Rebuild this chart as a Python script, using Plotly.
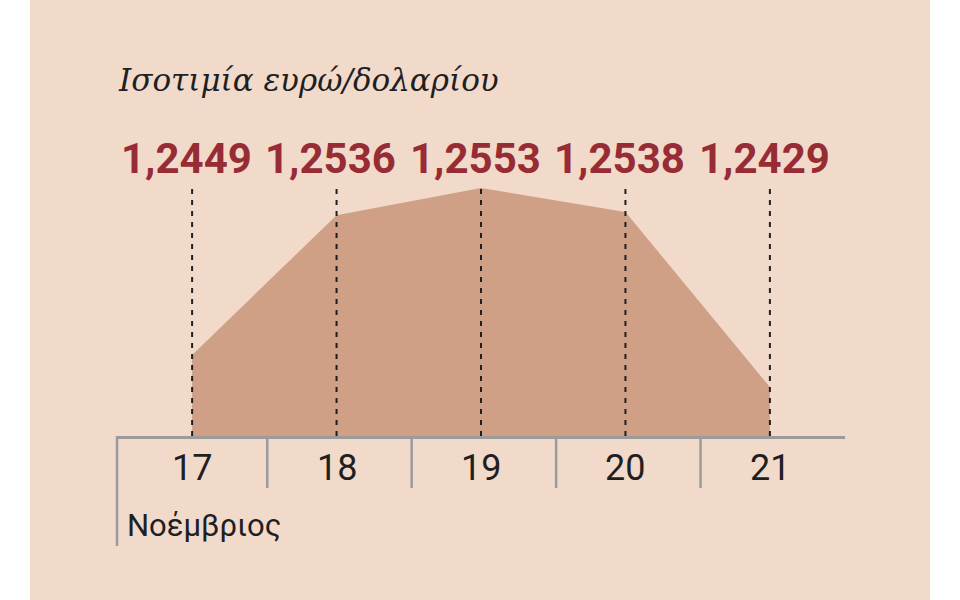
import plotly.graph_objects as go

days = [17, 18, 19, 20, 21]
rates = [1.2449, 1.2536, 1.2553, 1.2538, 1.2429]
day_labels = ["17", "18", "19", "20", "21"]
value_labels = [f"{v:.4f}".replace(".", ",") for v in rates]
title_text = "Ισοτιμία ευρώ/δολαρίου"
month_text = "Νοέμβριος"

PANEL = "#f2dacb"
FILL = "#cfa086"
RED = "#972c35"
INK = "#1f1f1f"
GRAY = "#9b9b9b"

W, H = 960, 600
L, R, T, B = 117, 115, 100, 164
pw, ph = W - L - R, H - T - B

def px_x(p):
    return (p - L) / pw

def px_y(p):
    return (H - B - p) / ph

fig = go.Figure()
fig.add_trace(go.Scatter(
    x=days, y=rates, mode="lines", fill="tozeroy",
    fillcolor=FILL, line=dict(width=0, color=FILL), hoverinfo="skip",
    showlegend=False,
))

shapes = [
    dict(type="rect", xref="paper", yref="paper", x0=px_x(30), x1=px_x(930),
         y0=px_y(H), y1=px_y(0), fillcolor=PANEL, line=dict(width=0), layer="below"),
    dict(type="line", xref="paper", yref="paper", x0=0, x1=0,
         y0=px_y(436), y1=px_y(546), line=dict(color=GRAY, width=2.5)),
]
for d in days:
    shapes.append(dict(type="line", xref="x", yref="paper", x0=d, x1=d,
                       y0=0, y1=px_y(188), line=dict(color=INK, width=2, dash="5px,6px")))
for d in days[:-1]:
    shapes.append(dict(type="line", xref="x", yref="paper", x0=d + 0.52, x1=d + 0.52,
                       y0=0, y1=px_y(488), line=dict(color=GRAY, width=2.5)))

annotations = [
    dict(text=title_text, xref="paper", yref="paper", x=-0.002, y=px_y(80),
         xanchor="left", yanchor="middle", showarrow=False,
         font=dict(family="DejaVu Serif", size=31, color=INK, style="italic")),
    dict(text=month_text, xref="paper", yref="paper", x=px_x(125), y=px_y(525),
         xanchor="left", yanchor="middle", showarrow=False,
         font=dict(family="Roboto, sans-serif", size=31, color=INK)),
]
for d, lab in zip(days, value_labels):
    annotations.append(dict(text=lab, x=d - 0.04, xref="x", yref="paper", y=px_y(158),
                            xanchor="center", yanchor="middle", showarrow=False,
                            font=dict(family="Roboto, sans-serif",
                                      size=42, color=RED, weight="bold")))
for d, lab in zip(days, day_labels):
    annotations.append(dict(text=lab, x=d, xref="x", yref="paper", y=px_y(468),
                            xanchor="center", yanchor="middle", showarrow=False,
                            font=dict(family="Roboto, sans-serif", size=36, color=INK)))

fig.update_layout(
    width=W, height=H,
    margin=dict(l=L, r=R, t=T, b=B),
    paper_bgcolor="white", plot_bgcolor="rgba(0,0,0,0)",
    xaxis=dict(range=[16.48, 21.52], showgrid=False, zeroline=False, showticklabels=False,
               ticks="", showline=True, linecolor=GRAY, linewidth=2.5, fixedrange=True),
    yaxis=dict(range=[1.23985, 1.26078], showgrid=False, zeroline=False, showticklabels=False,
               ticks="", showline=False, fixedrange=True),
    shapes=shapes, annotations=annotations, showlegend=False,
)

fig.write_html("out.html", config={"displayModeBar": False},
               post_script="document.body.style.margin='0';")
